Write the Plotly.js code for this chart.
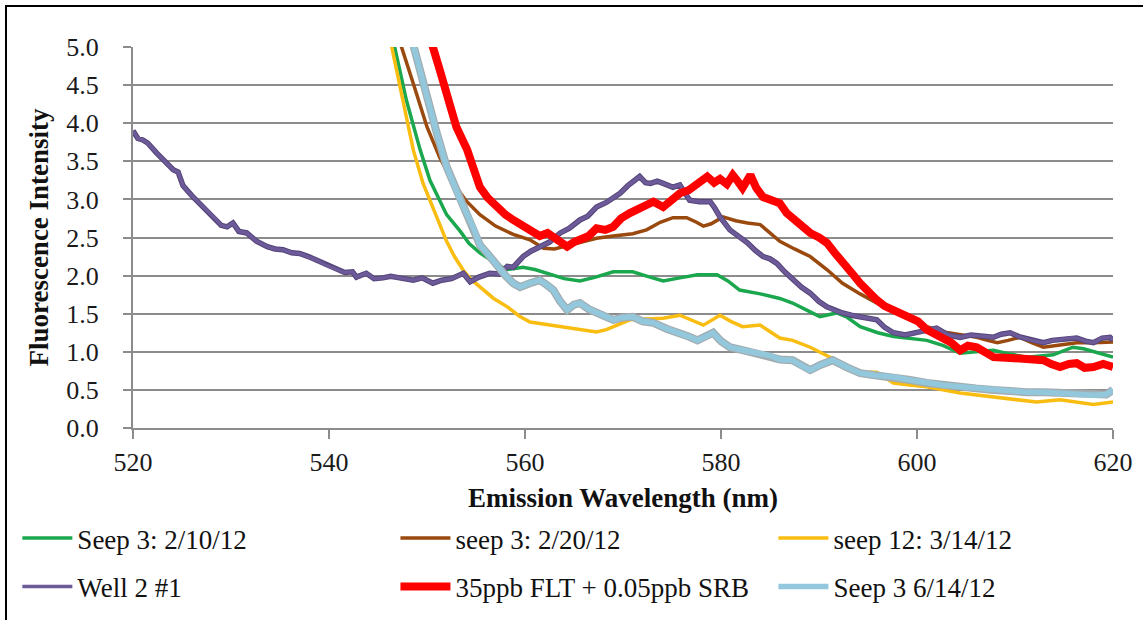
<!DOCTYPE html>
<html>
<head>
<meta charset="utf-8">
<script src="https://cdn.plot.ly/plotly-3.0.1.min.js"></script>
<style>
html,body{margin:0;padding:0;background:#fff;}
#wrap{position:relative;width:1143px;height:620px;overflow:hidden;}
#chart{position:absolute;left:0;top:0;width:1143px;height:620px;}
#frame{position:absolute;left:5px;top:5px;width:1300px;height:800px;border-left:2px solid #000;border-top:2px solid #000;pointer-events:none;}
</style>
</head>
<body>
<div id="wrap"><div id="chart"></div><div id="frame"></div></div>
<script>
// Seep 3: 2/10/12
const greenX = [545.8,546.7,547.9,549.3,550.3,551.3,552.0,553.4,554.3,555.4,556.5,557.5,558.2,559.8,561.0,562.2,564.0,565.6,567.2,569.0,571.0,572.5,574.1,575.8,577.6,579.6,580.7,581.9,584.0,586.0,587.3,589.0,590.1,591.8,592.8,594.2,596.0,597.6,599.5,601.0,602.7,604.4,606.0,607.8,609.5,611.2,613.9,615.9,617.0,618.0,620.0];
const greenY = [5.6,5.0,4.30,3.65,3.25,2.98,2.80,2.58,2.42,2.30,2.20,2.12,2.08,2.11,2.08,2.03,1.96,1.93,1.98,2.05,2.05,1.99,1.93,1.97,2.01,2.01,1.93,1.81,1.76,1.70,1.64,1.53,1.46,1.51,1.46,1.33,1.25,1.20,1.17,1.15,1.08,0.98,1.00,1.02,0.97,0.93,0.96,1.06,1.04,1.00,0.93];
// seep 3: 2/20/12
const brownX = [546.6,547.4,548.6,550.0,551.3,552.7,554.0,555.4,557.0,558.8,560.5,561.9,563.0,563.9,565.5,567.3,569.0,571.0,572.4,573.8,575.1,576.5,577.5,578.2,579.0,580.2,581.5,582.7,584.0,585.0,586.0,587.5,589.1,590.8,592.4,594.2,595.9,597.6,599.3,601.0,602.7,604.4,606.1,607.2,608.2,609.3,610.5,611.7,612.9,614.6,616.3,618.0,620.0];
const brownY = [5.6,5.0,4.52,3.95,3.55,3.21,2.98,2.80,2.65,2.54,2.47,2.36,2.35,2.38,2.44,2.49,2.52,2.55,2.60,2.70,2.76,2.76,2.70,2.65,2.68,2.77,2.72,2.69,2.67,2.56,2.45,2.35,2.25,2.08,1.90,1.76,1.64,1.52,1.42,1.33,1.26,1.22,1.19,1.15,1.12,1.15,1.19,1.12,1.06,1.09,1.12,1.12,1.13];
// seep 12: 3/14/12
const yellowX = [545.6,546.4,547.9,548.6,549.6,550.3,551.2,552.0,552.8,553.7,554.5,555.4,556.8,558.2,559.4,560.5,562.2,563.9,565.6,567.3,568.3,569.0,570.7,572.4,574.1,575.8,577.0,578.2,579.9,581.0,582.2,584.0,586.0,587.3,589.1,590.5,591.8,594.2,595.9,597.6,599.5,601.0,604.4,607.8,610.0,612.2,614.6,616.3,618.0,620.0];
const yellowY = [5.6,5.0,4.08,3.65,3.21,2.99,2.70,2.45,2.25,2.07,1.95,1.85,1.70,1.59,1.47,1.39,1.36,1.33,1.29,1.26,1.29,1.33,1.42,1.43,1.44,1.48,1.42,1.35,1.48,1.40,1.33,1.35,1.18,1.15,1.06,0.97,0.89,0.73,0.73,0.59,0.56,0.54,0.46,0.41,0.38,0.34,0.37,0.34,0.31,0.34];
// Well 2 #1
const purpleX = [520.0,520.5,521.0,521.5,522.4,523.2,524.1,524.6,525.1,526.0,526.8,527.5,528.3,529.0,529.6,530.2,530.8,531.6,532.6,533.7,534.5,535.3,536.2,537.0,537.9,538.8,539.6,540.4,541.6,542.4,542.8,543.8,544.6,545.5,546.3,547.2,548.0,548.6,549.5,550.6,551.5,552.5,553.7,554.4,555.3,556.4,557.4,558.2,558.8,559.8,560.6,561.5,562.5,563.6,564.5,565.6,566.4,567.3,568.3,569.7,570.5,571.7,572.3,572.8,573.5,574.1,575.1,575.8,576.3,576.8,577.8,578.9,579.3,579.9,580.9,581.8,582.7,583.5,584.3,585.0,585.7,586.5,587.3,588.2,589.1,590.0,590.8,591.6,592.4,593.3,594.2,595.0,595.9,596.7,597.6,598.8,600.0,601.0,602.0,603.2,604.4,605.5,606.6,607.8,608.6,609.5,610.4,611.2,612.0,612.9,613.8,614.6,615.5,616.3,617.2,618.0,618.9,619.7,620.0];
const purpleY = [3.90,3.80,3.78,3.74,3.61,3.50,3.39,3.36,3.18,3.05,2.95,2.87,2.76,2.66,2.64,2.69,2.58,2.56,2.45,2.38,2.35,2.34,2.30,2.29,2.25,2.20,2.14,2.10,2.04,2.05,1.98,2.03,1.96,1.97,1.99,1.97,1.95,1.94,1.97,1.90,1.94,1.96,2.03,1.92,1.98,2.03,2.02,2.12,2.11,2.25,2.32,2.38,2.44,2.56,2.62,2.73,2.78,2.90,2.96,3.08,3.18,3.30,3.22,3.21,3.24,3.21,3.16,3.19,3.08,2.99,2.97,2.97,2.90,2.77,2.60,2.52,2.43,2.33,2.25,2.22,2.16,2.05,1.95,1.85,1.77,1.66,1.59,1.54,1.51,1.48,1.46,1.44,1.42,1.32,1.25,1.22,1.25,1.28,1.31,1.22,1.19,1.22,1.21,1.19,1.23,1.25,1.20,1.17,1.14,1.12,1.15,1.16,1.18,1.18,1.14,1.12,1.18,1.19,1.15];
// 35ppb FLT + 0.05ppb SRB
const redX = [549.8,550.6,551.3,552.0,553.0,554.1,554.8,555.4,556.2,557.1,558.0,558.8,559.7,560.5,561.5,562.3,563.2,564.3,565.0,565.6,566.5,567.3,568.2,569.0,569.8,570.7,571.8,573.1,574.1,575.0,575.8,576.7,577.6,578.6,579.3,579.9,580.6,581.2,581.7,582.2,583.0,583.6,584.3,585.2,586.0,586.7,587.8,589.1,590.0,590.8,591.6,592.4,593.3,594.2,595.0,595.9,596.7,597.6,598.4,599.3,600.1,601.0,601.8,602.7,603.5,604.4,605.2,606.1,607.0,607.8,609.5,611.2,612.9,613.7,614.6,615.5,616.3,617.1,618.0,619.0,620.0];
const redY = [5.6,5.0,4.70,4.40,3.95,3.65,3.40,3.16,3.02,2.90,2.80,2.73,2.65,2.58,2.52,2.56,2.48,2.38,2.44,2.47,2.52,2.62,2.60,2.64,2.75,2.82,2.88,2.97,2.90,3.00,3.08,3.12,3.20,3.30,3.22,3.27,3.20,3.32,3.24,3.15,3.32,3.15,3.03,2.98,2.95,2.82,2.70,2.56,2.50,2.43,2.30,2.16,2.04,1.90,1.78,1.68,1.60,1.55,1.52,1.46,1.40,1.29,1.24,1.19,1.12,1.02,1.08,1.06,0.98,0.93,0.92,0.90,0.89,0.84,0.80,0.84,0.85,0.79,0.80,0.84,0.80];
// Seep 3 6/14/12
const blueX = [547.0,548.6,549.6,551.0,552.0,553.4,554.7,555.4,556.1,557.1,558.0,558.8,559.5,560.5,561.5,562.2,562.9,563.6,564.3,565.0,565.6,566.5,567.3,568.2,569.0,570.0,571.0,572.0,573.1,574.5,575.8,576.7,577.6,578.4,579.2,580.0,580.9,582.3,583.7,585.0,586.0,587.3,588.2,589.1,590.2,591.4,592.8,594.2,595.9,597.6,599.3,601.0,602.7,604.4,606.0,607.8,609.5,611.2,613.0,614.6,616.3,618.0,619.3,620.0];
const blueY = [5.8,5.0,4.52,3.87,3.43,2.99,2.64,2.40,2.30,2.13,2.00,1.90,1.85,1.90,1.94,1.88,1.81,1.66,1.55,1.62,1.64,1.56,1.51,1.47,1.42,1.45,1.46,1.40,1.38,1.30,1.25,1.20,1.15,1.20,1.25,1.14,1.06,1.02,0.98,0.95,0.90,0.89,0.82,0.76,0.83,0.89,0.80,0.72,0.69,0.67,0.63,0.59,0.56,0.54,0.52,0.50,0.48,0.47,0.47,0.46,0.45,0.43,0.44,0.50];

const names = ['Seep 3: 2/10/12','seep 3: 2/20/12','seep 12: 3/14/12','Well 2 #1','35ppb FLT + 0.05ppb SRB','Seep 3 6/14/12'];
const FONT = 'Liberation Serif';

function tr(x, y, name, color, width, legend) {
  return {x: x, y: y, name: name, type: 'scatter', mode: 'lines',
          line: {color: color, width: width}, legend: legend, hoverinfo: 'skip'};
}
function under(x, y, color, width) {
  return {x: x, y: y, type: 'scatter', mode: 'lines', showlegend: false,
          line: {color: color, width: width}, hoverinfo: 'skip'};
}
const data = [
  tr(greenX, greenY, names[0], '#1aa74d', 3.5, 'legend'),
  tr(brownX, brownY, names[1], '#9a4a0e', 3.5, 'legend2'),
  tr(yellowX, yellowY, names[2], '#f9bd12', 3.5, 'legend3'),
  under(purpleX, purpleY, '#55457a', 5.5),
  tr(purpleX, purpleY, names[3], '#6d5a98', 3.5, 'legend4'),
  tr(redX, redY, names[4], '#ff0000', 8, 'legend5'),
  under(blueX, blueY, '#a2adb2', 8),
  tr(blueX, blueY, names[5], '#93c8dc', 5.5, 'legend6')
];

const colX = [-0.118, 0.2678, 0.6535];
const rowY = [-0.29, -0.417];
function leg(i, j) {
  return {orientation: 'h', xanchor: 'left', yanchor: 'middle', x: colX[i], y: rowY[j],
    font: {family: FONT, size: 27, color: '#111'}, itemwidth: 50,
    bgcolor: 'rgba(0,0,0,0)'};
}

const layout = {
  width: 1143, height: 620,
  margin: {l: 133, r: 30, t: 47, b: 192, autoexpand: false},
  paper_bgcolor: '#fff', plot_bgcolor: '#fff',
  font: {family: FONT, size: 25, color: '#1a1a1a'},
  showlegend: true,
  xaxis: {range: [520, 620], tick0: 520, dtick: 20, ticks: 'outside', ticklen: 9, tickwidth: 2,
          tickcolor: '#8c8c8c', showline: true, linecolor: '#8c8c8c', linewidth: 2,
          showgrid: false, zeroline: false, ticklabelstandoff: 1, automargin: false,
          tickfont: {family: FONT, size: 26, color: '#1a1a1a'},
          title: {text: '<b>Emission Wavelength (nm)</b>', font: {family: FONT, size: 27, color: '#111'}, standoff: 12}},
  yaxis: {range: [0, 5], tick0: 0, dtick: 0.5, tickformat: '.1f', ticks: 'outside', ticklen: 8, tickwidth: 2,
          tickcolor: '#8c8c8c', showline: true, linecolor: '#8c8c8c', linewidth: 2,
          showgrid: true, gridcolor: '#8c8c8c', gridwidth: 2, zeroline: false,
          ticklabelstandoff: 19, automargin: false,
          tickfont: {family: FONT, size: 26, color: '#1a1a1a'},
          title: {text: '<b>Fluorescence Intensity</b>', font: {family: FONT, size: 27, color: '#111'}, standoff: 10}},
  legend: leg(0, 0), legend2: leg(1, 0), legend3: leg(2, 0),
  legend4: leg(0, 1), legend5: leg(1, 1), legend6: leg(2, 1)
};

Plotly.newPlot('chart', data, layout, {staticPlot: true, displayModeBar: false});
</script>
</body>
</html>
